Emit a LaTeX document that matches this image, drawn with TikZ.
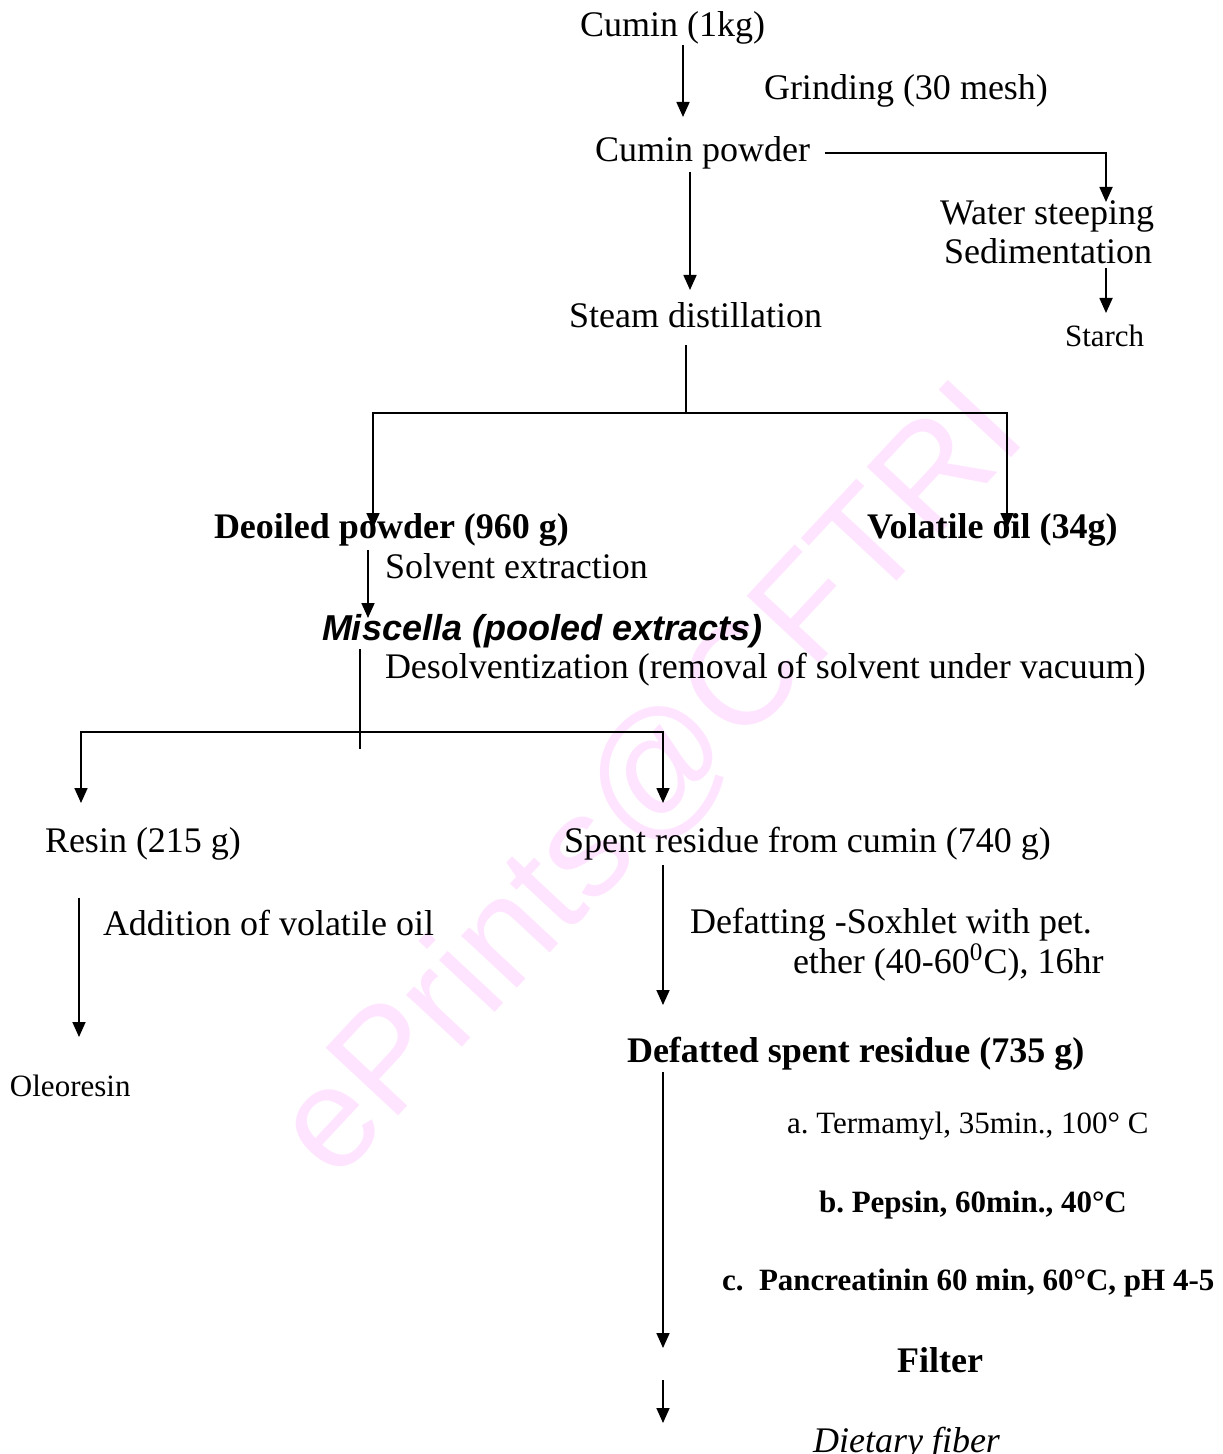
\documentclass[tikz,border=0pt]{standalone}
\usepackage{fontspec}
\setmainfont{Liberation Serif}
\newfontfamily\arialfont{Liberation Sans}
\usetikzlibrary{arrows.meta}
\tikzset{every picture/.style={line width=0.85pt}}
\definecolor{wmark}{RGB}{255,228,255}
\frenchspacing

\begin{document}
\begin{tikzpicture}[x=0.5pt,y=-0.5pt,
    txt/.style={anchor=base west, inner sep=0pt, outer sep=0pt, font=\fontsize{18}{21}\selectfont},
    sml/.style={txt, font=\fontsize{15.5}{18}\selectfont},
    arr/.style={-{Triangle[length=7.5pt,width=6.5pt]}}]
    \useasboundingbox (0,0) rectangle (1222,1454);

    % watermark
    \node[rotate=47, text=wmark, font=\arialfont\fontsize{72}{72}\selectfont] (wm) at (652,782) {ePrints@CFTRI};

    % grinding and steam distillation
    \node[txt] (cumin) at (580,37) {Cumin (1kg)};
    \node[txt] (grind) at (764,100) {Grinding (30 mesh)};
    \node[txt] (powder) at (595,162) {Cumin powder};
    \node[txt] (steep) at (940,225) {Water steeping};
    \node[txt] (sedim) at (944,264) {Sedimentation};
    \node[sml] (starch) at (1065,347) {Starch};
    \node[txt] (steam) at (569,328) {Steam distillation};
    \node[txt, font=\fontsize{18}{21}\selectfont\bfseries] (deoiled) at (214,538) {Deoiled powder (960 g)};
    \node[txt, font=\fontsize{18}{21}\selectfont\bfseries] (voloil) at (867,538) {Volatile oil (34g)};

    % solvent extraction
    \node[txt] (solvext) at (385,578) {Solvent extraction};
    \node[txt, font=\arialfont\fontsize{18}{21}\selectfont\bfseries\itshape] (miscella) at (322,640) {Miscella (pooled extracts)};
    \node[txt] (desolv) at (385,678) {Desolventization (removal of solvent under vacuum)};
    \node[txt] (resin) at (45,852) {Resin (215 g)};
    \node[txt] (spent) at (564,852) {Spent residue from cumin (740 g)};
    \node[txt] (addoil) at (103,935) {Addition of volatile oil};
    \node[sml] (oleo) at (10,1096) {Oleoresin};

    % dietary fiber
    \node[txt] (defat) at (690,933) {Defatting -Soxhlet with pet.};
    \node[txt] (ether) at (793,973) {ether (40-60\textsuperscript{0}C), 16hr};
    \node[txt, font=\fontsize{18}{21}\selectfont\bfseries] (defatted) at (627,1062) {Defatted spent residue (735 g)};
    \node[sml] (terma) at (787,1133) {a. Termamyl, 35min., 100° C};
    \node[sml, font=\fontsize{15.5}{18}\selectfont\bfseries] (pepsin) at (819,1212) {b. Pepsin, 60min., 40°C};
    \node[sml, font=\fontsize{15.5}{18}\selectfont\bfseries] (pancr) at (722,1290) {c.~~Pancreatinin 60 min, 60°C, pH 4-5};
    \node[txt, font=\fontsize{18}{21}\selectfont\bfseries] (filter) at (897,1372) {Filter};
    \node[txt, font=\fontsize{18}{21}\selectfont\itshape] (fiber) at (813,1452) {Dietary fiber};

    % arrow tips and junctions
    \coordinate (t1) at (683,117);
    \coordinate (t2) at (690,290);
    \coordinate (t3) at (1106,202);
    \coordinate (t4) at (1106,313);
    \coordinate (j1) at (686,413);
    \coordinate (t5) at (373,528);
    \coordinate (t6) at (1007,528);
    \coordinate (t7) at (368,618);
    \coordinate (j2) at (360,732);
    \coordinate (j2b) at (360,749);
    \coordinate (t8) at (81,803);
    \coordinate (t9) at (663,803);
    \coordinate (t10) at (79,1037);
    \coordinate (t11) at (663,1005);
    \coordinate (t12) at (663,1348);
    \coordinate (t13) at (663,1423);

    \draw[arr] (cumin.south -| t1) -- (t1);
    \draw[arr, shorten <=1pt] (powder.south -| t2) -- (t2);
    \draw[arr, shorten <=7.5pt] (powder.east) -| (t3);
    \draw[arr, shorten <=2pt] (sedim.south -| t4) -- (t4);
    \draw[shorten <=8.5pt] (steam.south -| j1) -- (j1);
    \draw[arr] (j1) -| (t5);
    \draw[arr] (j1) -| (t6);
    \draw[arr, shorten <=2pt] (deoiled.south -| t7) -- (t7);
    \draw[shorten <=1pt] (miscella.south -| j2) -- (j2b);
    \draw[arr] (j2) -| (t8);
    \draw[arr] (j2) -| (t9);
    \draw[arr, shorten <=19pt] (resin.south -| t10) -- (t10);
    \draw[arr, shorten <=2.5pt] (spent.south -| t11) -- (t11);
    \draw[arr, shorten <=1pt] (defatted.south -| t12) -- (t12);
    \draw[arr, shorten <=4pt] (filter.south -| t13) -- (t13);
\end{tikzpicture}
\end{document}
